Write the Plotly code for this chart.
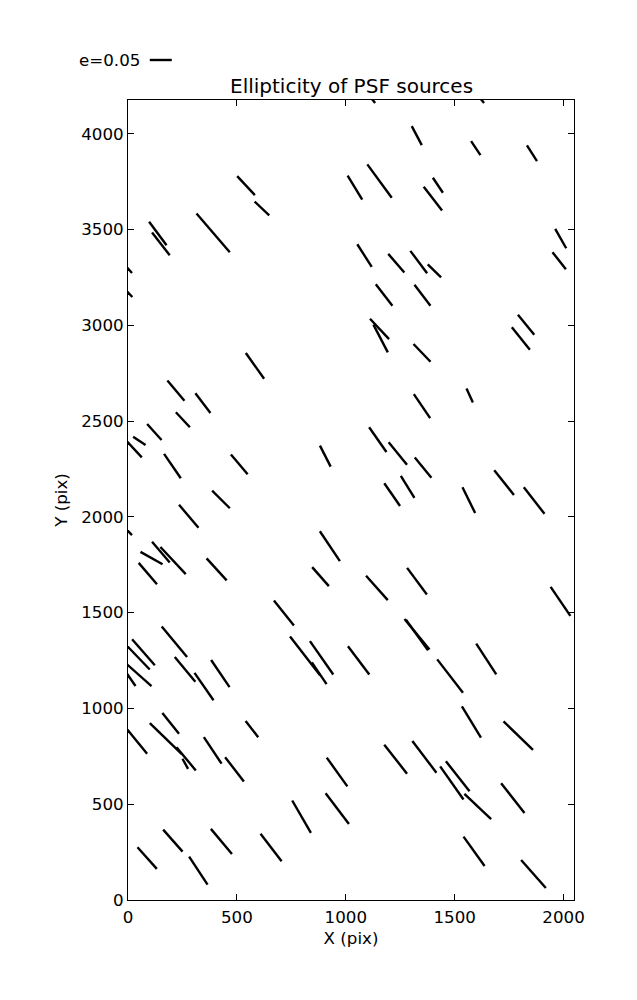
import numpy as np
import plotly.graph_objects as go

# PSF source positions (pix), ellipticity and orientation (deg, in data space)
x_center = [542, 615, 391, 137, 151, -19, -19, 1042, 1326, 1597, 1855, 1155, 1423, 1400, 1987,
            1086, 1232, 1335, 1407, 1980, 1176, 1352, 1155, 1160, 1350, 1828, 1804, 1350, 1569,
            1147, 1239, 1355, 1213, 1284, 1727, 1565, 1865, 583, 220, 344, 252, 121, 52, 22,
            204, 511, 906, 427, 279, -15, 151, 108, 207, 91, 407, 927, 884, 716, 813, 878, 889,
            1059, 1327, 1327, 1479, 1645, 1143, 1327, 1986, 213, 71, 45, 48, 3, 262, 349, 424,
            196, 41, 173, 267, 263, 389, 489, 569, 960, 797, 961, 206, 88, 323, 429, 657, 1577,
            1792, 1229, 1361, 1514, 1487, 1606, 1767, 1589, 1862, 1100, 1600]
y_center = [3729, 3610, 3482, 3479, 3425, 3321, 3194, 3719, 3990, 3925, 3898, 3753, 3731, 3661, 3453,
            3364, 3324, 3330, 3284, 3337, 3158, 3157, 2981, 2931, 2856, 3003, 2931, 2578, 2633,
            2403, 2331, 2257, 2116, 2157, 2179, 2087, 2085, 2788, 2659, 2594, 2507, 2443, 2397, 2361,
            2265, 2274, 2317, 2091, 2003, 1943, 1816, 1785, 1772, 1704, 1726, 1847, 1688, 1498, 1274, 1184, 1264,
            1251, 1387, 1383, 1169, 1258, 1629, 1664, 1559, 1348, 1293, 1268, 1177, 1169, 1204, 1114, 1182,
            922, 828, 843, 737, 711, 781, 682, 892, 668, 435, 477, 310, 219, 153, 306, 274, 929,
            858, 735, 747, 646, 611, 488, 532, 254, 136, 4210, 4210]
ellipticity = [0.0636, 0.0486, 0.1256, 0.0724, 0.0712, 0.0600, 0.0600, 0.0705, 0.0542, 0.0420, 0.0466,
               0.1025, 0.0450, 0.0741, 0.0561, 0.0671, 0.0606, 0.0693, 0.0453, 0.0535, 0.0668, 0.0654,
               0.0680, 0.0788, 0.0600, 0.0637, 0.0708, 0.0724, 0.0390, 0.0751, 0.0714, 0.0641, 0.0688,
               0.0648, 0.0781, 0.0725, 0.0829, 0.0785, 0.0652, 0.0614, 0.0502, 0.0528, 0.0355, 0.0644,
               0.0735, 0.0634, 0.0596, 0.0608, 0.0741, 0.0500, 0.0668, 0.0594, 0.0906, 0.0691, 0.0729,
               0.0894, 0.0621, 0.0791, 0.1212, 0.0654, 0.1012, 0.0878, 0.0975, 0.0935, 0.1042, 0.0916,
               0.0800, 0.0822, 0.0874, 0.0975, 0.0848, 0.0842, 0.0842, 0.0600, 0.0790, 0.0828, 0.0815,
               0.0653, 0.0792, 0.1072, 0.0746, 0.0289, 0.0798, 0.0760, 0.0504, 0.0879, 0.0938, 0.0953,
               0.0720, 0.0711, 0.0837, 0.0805, 0.0856, 0.0919, 0.0992, 0.0911, 0.0984, 0.0944, 0.1006,
               0.0895, 0.0932, 0.0897, 0.0917, 0.0600, 0.0600]
theta_deg = [-50.7, -46.9, -52.9, -56.8, -55.6, -52.0, -50.0, -61.9, -65.1, -59.7, -60.7, -57.2, -59.6,
             -55.8, -63.5, -60.7, -53.0, -56.7, -48.0, -55.3, -55.6, -56.2, -50.5, -65.4, -49.8, -54.4,
             -54.6, -59.2, -68.1, -58.4, -54.3, -53.9, -58.7, -61.5, -55.0, -66.5, -55.5, -58.0, -53.6,
             -56.2, -50.6, -51.7, -37.3, -50.5, -58.9, -53.2, -65.9, -48.5, -53.4, -48.8, -52.9, -32.4,
             -50.5, -53.0, -51.3, -59.4, -52.3, -54.9, -55.7, -59.2, -58.4, -56.5, -54.3, -57.6, -55.8,
             -60.2, -51.9, -56.9, -59.1, -53.8, -52.5, -49.8, -45.2, -58.7, -53.7, -58.5, -59.1, -54.7,
             -54.3, -47.7, -53.9, -63.8, -59.7, -55.9, -55.3, -57.8, -63.0, -56.2, -52.2, -51.8, -60.0,
             -53.5, -56.0, -61.9, -47.6, -55.4, -56.2, -55.3, -58.2, -47.2, -55.3, -57.8, -52.2, -55.0, -55.0]

key_e = 0.05
key_label = "e=0.05"
whisker_scale = 2020.0   # pix of whisker length per unit ellipticity
x_range = [0, 2048]
y_range = [0, 4176]
x_ticks = [0, 500, 1000, 1500, 2000]
y_ticks = [0, 500, 1000, 1500, 2000, 2500, 3000, 3500, 4000]

xs, ys = [], []
for xc, yc, e, t in zip(x_center, y_center, ellipticity, theta_deg):
    h = 0.5 * whisker_scale * e
    dx = h * np.cos(np.radians(t))
    dy = h * np.sin(np.radians(t))
    xs += [xc - dx, xc + dx, None]
    ys += [yc - dy, yc + dy, None]

FONT = "DejaVu Sans"
FS = 16.7
fig = go.Figure()
fig.add_trace(go.Scatter(x=xs, y=ys, mode="lines",
                         line=dict(color="black", width=2.4),
                         hoverinfo="skip", showlegend=False))

axis_common = dict(showline=True, linecolor="black", linewidth=1, mirror="ticks",
                   ticks="inside", ticklen=6, tickwidth=1, tickcolor="black",
                   showgrid=False, zeroline=False,
                   tickfont=dict(family=FONT, size=FS, color="black"))
fig.update_xaxes(range=x_range, tickvals=x_ticks, ticktext=[str(v) for v in x_ticks],
                 ticklabelstandoff=2,
                 title=dict(text="X (pix)", font=dict(family=FONT, size=FS, color="black"), standoff=6),
                 **axis_common)
fig.update_yaxes(range=y_range, tickvals=y_ticks, ticktext=[str(v) for v in y_ticks],
                 title=dict(text="Y (pix)", font=dict(family=FONT, size=FS, color="black"), standoff=9),
                 **axis_common)

# key whisker
kx0 = 100
kx1 = kx0 + whisker_scale * key_e
span = x_range[1] - x_range[0]
fig.add_shape(type="line", xref="paper", yref="paper",
              x0=(kx0 - x_range[0]) / span, x1=(kx1 - x_range[0]) / span, y0=1.05, y1=1.05,
              line=dict(color="black", width=2.4))
fig.add_annotation(text=key_label, xref="paper", yref="paper",
                   x=(kx0 - x_range[0]) / span, y=1.05, xanchor="right", yanchor="middle",
                   xshift=-8, showarrow=False,
                   font=dict(family=FONT, size=FS, color="black"))
fig.add_annotation(text="Ellipticity of PSF sources", xref="paper", yref="paper",
                   x=0.5, y=1.0175, xanchor="center", yanchor="middle", showarrow=False,
                   font=dict(family=FONT, size=20, color="black"))

# page body adds an 8px margin, so the figure is slightly smaller than the window
fig.update_layout(width=629, height=992,
                  margin=dict(l=120, r=63, t=92, b=100),
                  plot_bgcolor="white", paper_bgcolor="white",
                  font=dict(family=FONT, color="black"))
fig.write_html("out.html")
